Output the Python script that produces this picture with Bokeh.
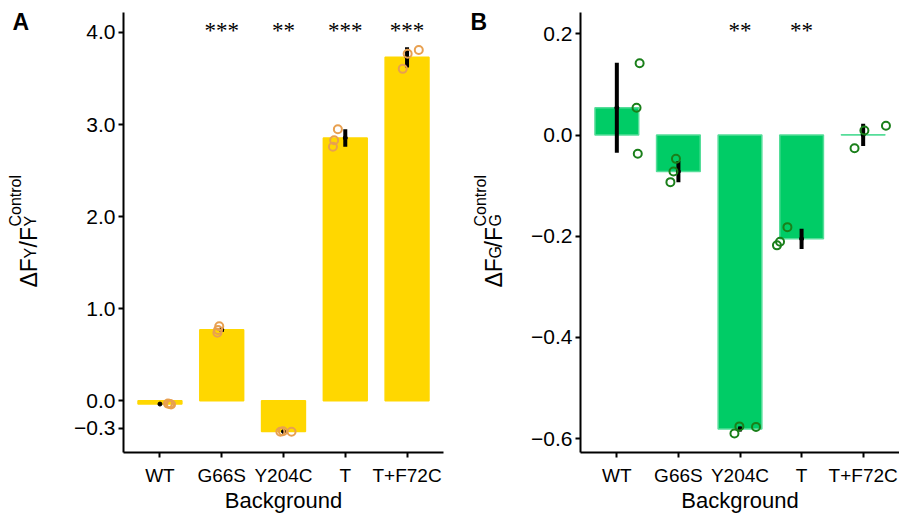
import numpy as np
from bokeh.plotting import figure
from bokeh.layouts import row
from bokeh.models import (FixedTicker, Range1d, Label, LabelSet, ColumnDataSource,
                          CustomJSTickFormatter)
from bokeh.embed import file_html
from bokeh.resources import INLINE

categories = ["WT", "G66S", "Y204C", "T", "T+F72C"]

# ---- Panel A (yellow) ----
a_mean = [-0.035, 0.773, -0.333, 2.855, 3.73]
a_se = [0.004, 0.025, 0.006, 0.095, 0.11]
a_stars = ["", "***", "**", "***", "***"]
a_pt_cat = [0, 0, 0, 1, 1, 1, 2, 2, 2, 3, 3, 3, 4, 4, 4]
a_pt_jit = [0.13, 0.16, 0.18, -0.04, -0.06, -0.07, -0.05, -0.01, 0.13,
            -0.12, -0.18, -0.20, -0.07, 0.01, 0.19]
a_pt_val = [-0.03, -0.035, -0.04, 0.81, 0.77, 0.74, -0.335, -0.33, -0.335,
            2.95, 2.83, 2.76, 3.605, 3.77, 3.81]
a_ticks = [-0.3, 0.0, 1.0, 2.0, 3.0, 4.0]

# ---- Panel B (green) ----
b_mean = [0.054, -0.072, -0.581, -0.205, 0.0005]
b_se = [0.089, 0.021, 0.005, 0.02, 0.022]
b_stars = ["", "", "**", "**", ""]
b_pt_cat = [0, 0, 0, 1, 1, 1, 2, 2, 2, 3, 3, 3, 4, 4, 4]
b_pt_jit = [0.37, 0.32, 0.34, -0.04, -0.08, -0.13, -0.09, -0.01, 0.26,
            -0.23, -0.35, -0.40, -0.14, 0.02, 0.37]
b_pt_val = [0.142, 0.054, -0.037, -0.047, -0.072, -0.093, -0.590, -0.576, -0.577,
            -0.182, -0.211, -0.218, -0.026, 0.009, 0.0185]
b_ticks = [-0.6, -0.4, -0.2, 0.0, 0.2]

FONT = "Liberation Sans"
H = 522
TOP, BOTTOM = 12, 70
LW = 60  # width of the strip holding panel letter and y-axis title


def label_strip(letter, sub, letter_x, title_x):
    # strip whose frame spans the same vertical band as the main panels;
    # its y range is expressed in page pixels (top = TOP, bottom = H - BOTTOM)
    s = figure(width=LW, height=H, title=None,
               output_backend="svg", toolbar_location=None,
               x_range=Range1d(0, LW), y_range=Range1d(H - BOTTOM, TOP),
               x_axis_type=None, y_axis_type=None, min_border=0,
               min_border_left=0, min_border_right=0, min_border_top=TOP,
               min_border_bottom=BOTTOM)
    s.outline_line_color = None
    s.grid.visible = False
    s.add_layout(Label(x=letter_x, y=21, text=letter, text_font=FONT,
                       text_font_style="bold", text_font_size="23px",
                       text_baseline="alphabetic", text_align="left",
                       text_color="black"))
    # rotated title: ΔF_sub / F_sub ^Control
    parts = [
        ("\u0394F", 0, 287, "23px"),
        (sub, 2, 258, "16px"),
        ("/F", 0, 247, "23px"),
        (sub, 2, 226, "16px"),
        ("Control", -13, 226, "16px"),
    ]
    for txt, dx, yy, fs in parts:
        s.add_layout(Label(x=title_x + dx, y=yy, text=txt, angle=np.pi / 2,
                           text_font=FONT, text_font_size=fs,
                           text_baseline="alphabetic", text_align="left",
                           text_color="black"))
    return s


def make_panel(width, border_left, border_right, y_lo, y_hi, mean, se, stars,
               pt_cat, pt_jit, pt_val, ticks, bar_color, bar_line, pt_color):
    p = figure(width=width, height=H, output_backend="svg", toolbar_location=None,
               x_range=Range1d(0.41, 5.59), y_range=Range1d(y_lo, y_hi),
               min_border_left=border_left, min_border_right=border_right,
               min_border_top=TOP, min_border_bottom=BOTTOM)
    p.outline_line_color = None
    p.grid.visible = False

    xs = np.arange(1, len(categories) + 1)
    mean = np.array(mean)
    se = np.array(se)
    p.vbar(x=xs, top=mean, bottom=0, width=0.71, fill_color=bar_color,
           line_color=bar_line, line_width=1.5)
    p.segment(x0=xs, y0=mean - se, x1=xs, y1=mean + se, line_width=4, line_color="black")
    p.scatter(x=xs, y=mean, size=4, color="black")
    px = np.array(pt_cat) + 1 + np.array(pt_jit)
    p.scatter(x=px, y=pt_val, size=8, marker="circle", fill_color=None,
              line_color=pt_color, line_width=2)

    src = ColumnDataSource(dict(x=xs, t=stars))
    p.add_layout(LabelSet(x="x", y=415, y_units="screen", text="t", source=src,
                          text_align="center", text_baseline="alphabetic",
                          text_font=FONT, text_font_size="23px", text_color="black"))

    for ax in (p.xaxis[0], p.yaxis[0]):
        ax.axis_line_width = 2
        ax.axis_line_color = "black"
        ax.major_tick_line_width = 2
        ax.major_tick_line_color = "black"
        ax.major_tick_out = 5
        ax.major_tick_in = 0
        ax.minor_tick_line_color = None
        ax.major_label_text_font = FONT
        ax.major_label_text_color = "black"
    p.xaxis.ticker = FixedTicker(ticks=list(xs))
    p.xaxis.major_label_overrides = {int(i + 1): c for i, c in enumerate(categories)}
    p.xaxis.major_label_text_font_size = "19px"
    p.xaxis.major_label_standoff = 7
    p.xaxis.axis_label = "Background"
    p.xaxis.axis_label_text_font = FONT
    p.xaxis.axis_label_text_font_style = "normal"
    p.xaxis.axis_label_text_font_size = "22px"
    p.xaxis.axis_label_text_color = "black"
    p.xaxis.axis_label_standoff = -1
    p.yaxis.ticker = FixedTicker(ticks=ticks)
    p.yaxis.formatter = CustomJSTickFormatter(
        code="return tick.toFixed(1).replace('-', '\u2212');")
    p.yaxis.major_label_text_font_size = "21px"
    p.yaxis.major_label_standoff = 3
    return p


la = label_strip("A", "Y", 12, 28)
pa = make_panel(450 - LW, 123 - LW, 7, -0.561, 4.217, a_mean, a_se, a_stars,
                a_pt_cat, a_pt_jit, a_pt_val, a_ticks,
                "#FFD700", "#FFD700", "#E8A050")
lb = label_strip("B", "G", 20, 43)
pb = make_panel(449 - LW, 130 - LW, 0, -0.6276, 0.2424, b_mean, b_se, b_stars,
                b_pt_cat, b_pt_jit, b_pt_val, b_ticks,
                "#00CC66", "#55DD99", "#1A7F1A")

layout = row(la, pa, lb, pb)
open("out.html", "w").write(file_html(layout, INLINE))
